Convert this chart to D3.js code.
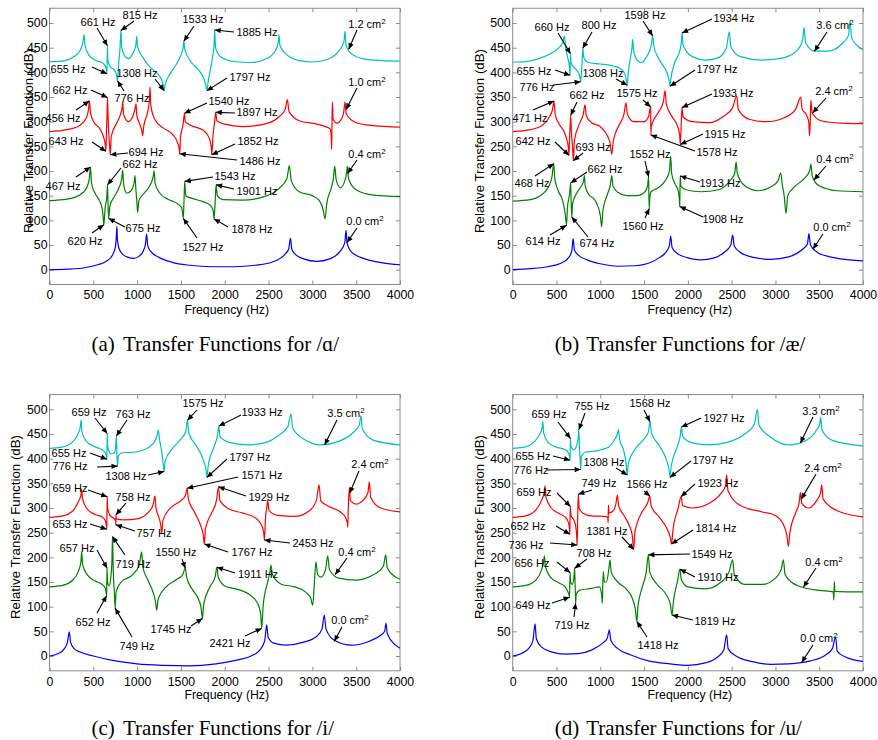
<!DOCTYPE html>
<html>
<head>
<meta charset="utf-8">
<script src="https://cdn.jsdelivr.net/npm/d3@7"></script>
<style>
body { margin: 0; background: #fff; }
</style>
</head>
<body>
<svg id="fig" width="878" height="740"></svg>
<script>
// axis ticks
var freqTicks = [0, 500, 1000, 1500, 2000, 2500, 3000, 3500, 4000];
var dbTicks = [0, 50, 100, 150, 200, 250, 300, 350, 400, 450, 500];

// ---------- (a) /ɑ/  : [Hz, dB] ----------
var aBlue = [[0,0],[200,1],[400,4],[550,10],[650,17],[720,30],[750,45],[762,65],[768,88],[775,62],[790,45],[830,32],[900,25],[960,23],[1020,27],[1070,38],[1095,52],[1109,72],[1120,50],[1150,38],[1250,25],[1400,15],[1600,9],[1850,6],[2100,6],[2350,9],[2550,16],[2680,30],[2730,42],[2750,64],[2765,42],[2800,32],[2900,22],[3050,17],[3200,22],[3320,38],[3370,55],[3384,80],[3395,55],[3450,35],[3600,22],[3800,14],[4000,10]];
var aGreen = [[0,140],[200,143],[350,152],[420,165],[455,185],[467,208],[480,175],[520,155],[570,140],[600,125],[612,108],[620,91],[635,125],[655,150],[662,172],[668,135],[675,104],[690,130],[740,148],[790,165],[825,185],[835,202],[845,175],[880,155],[930,160],[965,175],[976,191],[985,165],[998,135],[1006,116],[1020,140],[1080,155],[1150,172],[1185,190],[1193,201],[1205,175],[1260,155],[1350,143],[1450,135],[1510,125],[1527,104],[1535,140],[1543,179],[1555,150],[1620,145],[1750,138],[1840,130],[1870,118],[1878,103],[1890,135],[1901,172],[1915,150],[1980,142],[2200,141],[2450,148],[2620,165],[2710,185],[2737,211],[2760,180],[2850,158],[3000,150],[3080,140],[3125,120],[3144,103],[3165,135],[3215,165],[3240,185],[3255,210],[3272,182],[3320,166],[3370,180],[3390,196],[3400,210],[3412,185],[3500,162],[3700,151],[4000,148]];
var aRed = [[0,280],[200,284],[350,293],[420,308],[445,325],[456,342],[468,318],[510,298],[570,287],[615,270],[635,255],[643,240],[650,280],[657,315],[662,349],[670,300],[685,255],[694,233],[705,270],[760,295],[810,315],[830,330],[835,341],[845,315],[900,300],[960,315],[980,330],[987,336],[995,315],[1030,295],[1055,280],[1063,271],[1075,290],[1120,320],[1140,345],[1147,370],[1155,335],[1200,305],[1300,287],[1400,275],[1460,258],[1480,245],[1486,235],[1495,268],[1525,295],[1540,317],[1550,300],[1620,292],[1750,283],[1820,268],[1845,250],[1852,233],[1865,270],[1885,300],[1897,319],[1910,302],[2000,295],[2200,290],[2450,295],[2620,310],[2690,325],[2714,345],[2735,320],[2850,302],[3050,295],[3150,290],[3205,285],[3215,270],[3220,244],[3224,300],[3228,340],[3236,305],[3280,297],[3330,305],[3358,320],[3372,340],[3386,316],[3500,298],[3700,292],[4000,289]];
var aCyan = [[0,422],[150,423],[280,432],[350,445],[380,460],[394,476],[405,455],[450,435],[530,424],[600,420],[640,412],[650,405],[655,397],[658,425],[661,454],[665,425],[700,410],[740,405],[765,395],[776,383],[790,420],[805,450],[815,485],[825,450],[860,433],[900,428],[950,438],[985,455],[995,473],[1005,452],[1060,432],[1150,410],[1230,398],[1280,385],[1300,372],[1308,363],[1320,375],[1380,398],[1460,420],[1510,440],[1525,450],[1533,463],[1542,448],[1600,425],[1700,405],[1760,388],[1785,373],[1797,363],[1810,380],[1860,430],[1878,455],[1885,486],[1895,450],[1950,432],[2100,422],[2300,420],[2480,428],[2580,445],[2610,460],[2619,476],[2630,455],[2700,437],[2850,424],[3000,421],[3150,425],[3300,443],[3360,462],[3372,483],[3385,455],[3450,437],[3600,427],[3800,424],[4000,423]];
var aNotes = [["661 Hz",661,454],["815 Hz",815,485],["1533 Hz",1533,463],["1885 Hz",1885,486],
  ["655 Hz",655,397],["1308 Hz",1308,363],["776 Hz",776,383],["1797 Hz",1797,363],
  ["662 Hz",662,349],["456 Hz",456,342],["1540 Hz",1540,317],["1897 Hz",1897,319],
  ["643 Hz",643,240],["694 Hz",694,233],["1852 Hz",1852,233],["1486 Hz",1486,235],
  ["662 Hz",662,172],["467 Hz",467,208],["1543 Hz",1543,179],["1901 Hz",1901,172],
  ["1527 Hz",1527,104],["1878 Hz",1878,103],["620 Hz",620,91],["675 Hz",675,104],
  ["1.2 cm2",3415,447],["1.0 cm2",3385,325],["0.4 cm2",3402,195],["0.0 cm2",3395,55]];

// ---------- (b) /æ/ ----------
var bBlue = [[0,0],[200,2],[400,6],[550,13],[640,25],[675,38],[690,63],[705,40],[760,28],[850,20],[1000,12],[1200,7],[1400,8],[1550,13],[1680,25],[1760,38],[1790,50],[1804,68],[1820,45],[1880,33],[2000,24],[2150,20],[2300,24],[2420,36],[2490,50],[2512,70],[2530,48],[2600,35],[2750,25],[2950,21],[3150,26],[3300,40],[3365,52],[3383,73],[3400,50],[3480,35],[3650,25],[3850,20],[4000,18]];
var bGreen = [[0,139],[200,142],[330,152],[410,168],[450,190],[468,215],[480,185],[520,160],[570,140],[595,118],[608,100],[614,90],[625,125],[650,155],[662,176],[667,140],[674,107],[685,135],[730,155],[785,170],[810,180],[818,191],[828,170],[870,152],[920,145],[970,130],[1000,110],[1016,87],[1030,120],[1080,152],[1115,172],[1131,191],[1145,170],[1200,157],[1300,150],[1420,150],[1510,158],[1540,170],[1552,188],[1555,150],[1560,124],[1565,145],[1580,158],[1650,165],[1740,180],[1790,200],[1804,230],[1815,195],[1850,175],[1890,160],[1902,145],[1908,128],[1910,160],[1913,190],[1920,170],[1980,162],[2150,158],[2350,162],[2480,180],[2535,195],[2551,218],[2565,195],[2650,170],[2800,160],[2950,168],[3030,180],[3060,196],[3080,170],[3100,150],[3121,114],[3140,150],[3200,165],[3330,185],[3390,200],[3406,214],[3420,190],[3500,170],[3700,160],[4000,158]];
var bRed = [[0,280],[200,284],[340,293],[420,310],[455,325],[471,342],[485,315],[530,295],[580,282],[620,262],[635,248],[642,232],[650,270],[657,295],[662,313],[670,280],[685,245],[693,221],[705,262],[760,295],[805,315],[826,334],[840,312],[900,298],[1000,290],[1070,275],[1110,258],[1131,234],[1150,262],[1220,295],[1270,315],[1294,338],[1310,315],[1380,300],[1500,300],[1550,310],[1575,330],[1576,300],[1578,273],[1582,290],[1600,300],[1660,318],[1720,340],[1740,363],[1755,335],[1820,310],[1880,292],[1905,275],[1915,254],[1925,300],[1933,329],[1945,310],[2050,300],[2250,298],[2400,310],[2510,328],[2558,352],[2575,325],[2700,305],[2900,300],[3100,308],[3230,325],[3289,350],[3305,325],[3350,315],[3380,300],[3390,271],[3398,300],[3405,344],[3420,318],[3520,302],[3750,297],[4000,296]];
var bCyan = [[0,421],[150,422],[300,428],[450,440],[540,452],[575,462],[590,474],[605,450],[630,428],[645,415],[652,402],[655,394],[657,415],[660,438],[665,420],[700,410],[740,402],[765,392],[776,381],[785,400],[792,420],[800,449],[812,430],[860,420],[1000,417],[1150,413],[1250,405],[1290,392],[1308,374],[1320,400],[1345,430],[1362,450],[1370,467],[1380,445],[1420,425],[1470,420],[1530,432],[1575,450],[1588,462],[1598,474],[1610,455],[1660,430],[1730,410],[1770,395],[1790,380],[1797,372],[1805,385],[1850,420],[1910,445],[1925,460],[1934,480],[1945,455],[2050,432],[2200,425],[2350,430],[2440,450],[2474,482],[2490,452],[2600,432],[2850,425],[3100,430],[3250,445],[3310,465],[3327,491],[3345,460],[3450,443],[3600,443],[3760,458],[3835,475],[3852,503],[3870,470],[3950,452],[4000,446]];
var bNotes = [["660 Hz",660,438],["800 Hz",800,449],["1598 Hz",1598,474],["1934 Hz",1934,480],
  ["655 Hz",655,394],["1308 Hz",1308,374],["776 Hz",776,381],["1797 Hz",1797,372],
  ["471 Hz",471,342],["662 Hz",662,313],["1575 Hz",1575,330],["1933 Hz",1933,329],
  ["642 Hz",642,232],["693 Hz",693,221],["1915 Hz",1915,254],["1578 Hz",1578,273],
  ["1552 Hz",1552,188],["662 Hz",662,176],["468 Hz",468,215],["1913 Hz",1913,190],["1908 Hz",1908,128],
  ["614 Hz",614,90],["674 Hz",674,107],["1560 Hz",1560,124],
  ["3.6 cm2",3445,443],["2.4 cm2",3425,318],["0.4 cm2",3440,182],["0.0 cm2",3430,42]];

// ---------- (c) /i/ ----------
var cBlue = [[0,0],[100,5],[170,15],[205,28],[226,49],[240,28],[280,15],[350,8],[500,0],[750,-10],[1000,-16],[1300,-19],[1600,-20],[1900,-16],[2150,-8],[2300,0],[2400,12],[2455,30],[2479,63],[2495,38],[2560,26],[2700,22],[2900,28],[3050,40],[3110,55],[3136,83],[3155,55],[3250,32],[3450,22],[3650,30],[3780,42],[3825,50],[3840,66],[3855,45],[3950,22],[4000,16]];
var cGreen = [[0,140],[150,143],[260,153],[330,172],[358,190],[367,211],[378,185],[430,165],[520,152],[600,145],[635,138],[645,130],[652,122],[654,150],[657,178],[662,150],[680,142],[700,160],[712,190],[719,242],[728,170],[740,130],[749,97],[760,130],[820,150],[950,165],[1025,185],[1052,211],[1065,180],[1120,155],[1180,130],[1210,110],[1223,93],[1240,115],[1330,140],[1450,155],[1520,165],[1550,178],[1565,160],[1630,135],[1700,115],[1730,98],[1745,76],[1760,105],[1830,140],[1890,160],[1911,180],[1925,160],[2000,142],[2150,135],[2300,122],[2380,105],[2410,85],[2421,56],[2440,105],[2490,150],[2515,170],[2528,184],[2545,165],[2650,145],[2800,140],[2920,130],[2980,118],[3004,103],[3020,140],[3041,191],[3060,165],[3100,160],[3150,175],[3175,203],[3195,175],[3300,158],[3500,154],[3700,165],[3810,182],[3837,205],[3855,178],[3950,160],[4000,156]];
var cRed = [[0,281],[150,284],[270,295],[335,315],[358,325],[367,338],[378,318],[430,298],[520,287],[600,282],[635,275],[648,265],[653,257],[656,290],[659,323],[663,300],[690,285],[740,278],[755,272],[757,266],[758,286],[762,278],[850,276],[1000,278],[1120,290],[1180,305],[1204,324],[1215,300],[1250,280],[1270,265],[1280,249],[1295,275],[1380,300],[1500,315],[1550,325],[1571,340],[1585,318],[1660,290],[1730,262],[1755,245],[1767,227],[1780,258],[1850,290],[1905,315],[1929,343],[1945,315],[2050,298],[2200,290],[2350,280],[2420,265],[2445,250],[2453,235],[2465,280],[2480,300],[2490,316],[2505,295],[2600,285],[2800,283],[2970,295],[3045,315],[3076,347],[3095,315],[3200,302],[3320,292],[3380,280],[3400,268],[3403,261],[3410,300],[3421,340],[3435,315],[3500,308],[3590,318],[3635,332],[3650,353],[3665,322],[3780,300],[4000,292]];
var cCyan = [[0,421],[130,423],[270,435],[330,452],[352,465],[360,478],[370,455],[420,435],[520,424],[600,418],[635,412],[648,405],[655,399],[657,425],[659,451],[664,425],[700,410],[740,412],[755,425],[763,446],[768,420],[772,400],[776,385],[785,405],[830,412],[950,413],[1080,418],[1180,430],[1225,445],[1242,458],[1255,440],[1280,415],[1298,390],[1308,374],[1320,395],[1400,420],[1500,440],[1555,455],[1575,478],[1590,452],[1680,425],[1750,400],[1785,378],[1797,362],[1810,385],[1880,425],[1915,445],[1933,466],[1945,445],[2050,433],[2250,428],[2450,432],[2620,448],[2720,465],[2756,491],[2775,462],[2900,440],[3100,428],[3300,435],[3460,452],[3535,468],[3555,487],[3570,460],[3700,437],[4000,428]];
var cNotes = [["659 Hz",659,451],["763 Hz",763,446],["1575 Hz",1575,478],["1933 Hz",1933,466],
  ["655 Hz",655,399],["776 Hz",776,385],["1308 Hz",1308,374],["1797 Hz",1797,362],["1571 Hz",1571,340],
  ["659 Hz",659,323],["758 Hz",758,286],["1929 Hz",1929,343],
  ["653 Hz",653,257],["757 Hz",757,266],["1767 Hz",1767,227],["2453 Hz",2453,235],
  ["657 Hz",657,178],["719 Hz",719,242],["1550 Hz",1550,178],["1911 Hz",1911,180],
  ["652 Hz",652,122],["749 Hz",749,97],["1745 Hz",1745,76],["2421 Hz",2421,56],
  ["3.5 cm2",3140,428],["2.4 cm2",3425,330],["0.4 cm2",3260,165],["0.0 cm2",3250,30]];

// ---------- (d) /u/ ----------
var dBlue = [[0,0],[100,5],[180,15],[230,30],[255,65],[270,35],[330,18],[450,8],[600,4],[750,5],[900,12],[1020,25],[1080,36],[1104,53],[1120,32],[1200,15],[1350,2],[1550,-10],[1800,-16],[2000,-19],[2200,-14],[2340,-2],[2410,12],[2443,43],[2460,15],[2550,0],[2750,-12],[2950,-17],[3150,-16],[3400,-10],[3580,3],[3650,15],[3688,38],[3705,10],[3800,-2],[4000,-11]];
var dGreen = [[0,140],[150,143],[270,155],[330,175],[352,190],[362,203],[372,182],[430,160],[530,148],[600,140],[630,130],[642,125],[649,119],[652,145],[656,169],[660,150],[680,145],[698,158],[708,178],[712,150],[716,125],[719,107],[725,125],[760,133],[900,137],[990,140],[1015,125],[1024,107],[1028,140],[1035,171],[1045,150],[1070,150],[1095,172],[1111,195],[1125,170],[1200,150],[1300,135],[1370,115],[1400,95],[1418,70],[1430,100],[1480,140],[1525,170],[1549,205],[1565,170],[1650,145],[1750,125],[1800,105],[1819,83],[1835,110],[1880,150],[1910,176],[1925,155],[2000,140],[2200,136],[2380,150],[2470,170],[2512,195],[2530,165],[2650,145],[2850,145],[3000,158],[3065,175],[3091,195],[3110,165],[3250,143],[3500,133],[3660,130],[3667,113],[3673,151],[3680,131],[3800,130],[4000,130]];
var dRed = [[0,281],[150,284],[270,297],[335,318],[358,330],[369,345],[380,322],[440,300],[540,288],[610,280],[640,268],[648,258],[652,247],[655,280],[659,303],[665,285],[700,275],[720,262],[730,245],[736,225],[742,280],[749,328],[758,300],[800,290],[900,284],[1050,283],[1085,281],[1090,270],[1093,306],[1100,290],[1150,295],[1180,310],[1195,326],[1210,305],[1270,285],[1330,265],[1365,245],[1381,216],[1395,250],[1470,290],[1540,310],[1566,324],[1580,305],[1680,280],[1770,255],[1800,240],[1814,227],[1830,255],[1890,300],[1923,323],[1940,305],[2050,300],[2250,310],[2380,330],[2430,345],[2443,367],[2458,335],[2600,305],[2850,292],[3000,285],[3080,270],[3130,245],[3148,222],[3165,250],[3230,290],[3270,310],[3285,331],[3300,310],[3380,300],[3470,315],[3515,330],[3528,347],[3545,318],[3700,295],[4000,282]];
var dCyan = [[0,421],[120,423],[250,435],[315,452],[335,462],[343,475],[355,452],[410,432],[510,423],[600,418],[635,412],[648,405],[655,397],[657,420],[659,441],[665,425],[700,418],[735,430],[750,445],[755,459],[762,425],[770,400],[776,378],[785,405],[830,413],[950,416],[1080,422],[1160,438],[1195,450],[1207,459],[1220,440],[1270,415],[1295,390],[1308,367],[1320,390],[1400,420],[1500,440],[1550,455],[1568,475],[1585,452],[1680,425],[1750,400],[1785,378],[1797,362],[1810,385],[1880,425],[1912,445],[1927,464],[1940,445],[2050,432],[2250,428],[2450,433],[2650,450],[2760,470],[2794,500],[2812,468],[2950,443],[3150,428],[3350,437],[3470,458],[3505,470],[3517,484],[3532,458],[3650,437],[4000,426]];
var dNotes = [["659 Hz",659,441],["755 Hz",755,459],["1568 Hz",1568,475],["1927 Hz",1927,464],
  ["655 Hz",655,397],["1308 Hz",1308,367],["776 Hz",776,378],["1797 Hz",1797,362],
  ["659 Hz",659,303],["749 Hz",749,328],["1566 Hz",1566,324],["1923 Hz",1923,323],
  ["652 Hz",652,247],["1381 Hz",1381,216],["736 Hz",736,225],["1814 Hz",1814,227],
  ["708 Hz",708,178],["656 Hz",656,169],["1549 Hz",1549,205],["1910 Hz",1910,176],
  ["649 Hz",649,119],["719 Hz",719,107],["1418 Hz",1418,70],["1819 Hz",1819,83],
  ["3.3 cm2",3285,432],["2.4 cm2",3295,318],["0.4 cm2",3320,140],["0.0 cm2",3300,-13]];

// where each note's text sits and where its arrow starts (page px: textX, textY, tailX, tailY)
var aNoteXY = [[98,22,97,28],[140,15,134,21],[203,19,194,26],[257,32,234,32],
  [68,69,92,67],[137,73,155,79],[132,98,124,91],[250,77,227,78],
  [70,90,91,90],[63,118,76,110],[229,101,207,103],[257,112,235,113],
  [66,141,92,142],[146,152,128,153],[258,141,235,144],[260,161,237,160],
  [140,164,121,168],[63,186,76,177],[235,176,213,177],[257,191,234,189],
  [203,247,197,238],[252,229,228,227],[85,241,92,233],[143,228,125,227],
  [367,24,357,30],[367,82,357,88],[367,154,357,160],[365,221,357,228]];
var bNoteXY = [[552,27,558,33],[599,25,592,32],[645,15,643,21],[734,18,712,19],
  [534,71,555,70],[603,73,616,79],[537,87,553,85],[717,69,695,70],
  [530,118,533,110],[587,95,577,102],[637,93,643,100],[733,93,712,94],
  [533,141,555,142],[593,147,583,153],[725,134,703,134],[717,152,695,151],
  [650,154,645,161],[605,169,587,172],[532,183,535,176],[720,183,700,182],[723,219,703,217],
  [543,241,550,235],[597,243,588,237],[643,226,645,218],
  [835,25,827,32],[834,91,826,98],[835,159,826,166],[832,227,823,234]];
var cNoteXY = [[89,412,95,418],[133,414,127,420],[203,403,197,410],[262,412,241,415],
  [69,453,90,453],[70,466,97,467],[126,476,148,475],[250,457,227,459],[262,475,238,477],
  [70,488,88,490],[133,497,126,503],[269,497,246,496],
  [70,524,90,524],[154,533,135,531],[252,552,228,552],[313,543,290,543],
  [77,548,97,550],[133,564,125,555],[176,552,182,559],[258,574,235,573],
  [93,622,97,613],[137,646,132,637],[171,629,191,626],[230,643,245,636],
  [346,413,337,420],[370,464,359,471],[357,552,347,558],[350,620,342,627]];
var dNoteXY = [[549,414,558,422],[592,406,585,413],[650,403,644,410],[724,418,701,418],
  [533,456,553,456],[604,462,616,468],[531,470,547,470],[713,460,691,461],
  [534,492,557,493],[599,483,592,490],[647,484,644,491],[718,483,695,484],
  [528,526,556,526],[607,531,622,537],[526,545,550,543],[716,528,693,530],
  [594,553,587,559],[532,563,557,562],[712,554,690,554],[718,577,695,577],
  [533,605,552,603],[572,625,574,617],[658,645,647,637],[715,621,693,620],
  [821,411,813,417],[823,468,816,474],[824,562,816,568],[819,638,813,645]];

var colors = ["#0000ff", "#008000", "#ff0000", "#00bfbf"];
var pxPerDb = 0.4933;

var panels = [
  { tag: "(a)", vowel: "/\u0251/", curves: [aBlue, aGreen, aRed, aCyan], notes: aNotes, noteXY: aNoteXY,
    left: 49.5, right: 400, zero: 269.7, ylabX: 28, ylabY: 141, xlabY: 314, capY: 351 },
  { tag: "(b)", vowel: "/\u00e6/", curves: [bBlue, bGreen, bRed, bCyan], notes: bNotes, noteXY: bNoteXY,
    left: 512.7, right: 863, zero: 269.7, ylabX: 479, ylabY: 141, xlabY: 314, capY: 351 },
  { tag: "(c)", vowel: "/i/", curves: [cBlue, cGreen, cRed, cCyan], notes: cNotes, noteXY: cNoteXY,
    left: 49.5, right: 400, zero: 656, ylabX: 15, ylabY: 527, xlabY: 699, capY: 735 },
  { tag: "(d)", vowel: "/u/", curves: [dBlue, dGreen, dRed, dCyan], notes: dNotes, noteXY: dNoteXY,
    left: 512.7, right: 863, zero: 656, ylabX: 479, ylabY: 527, xlabY: 699, capY: 735 }
];

var sans = "'Liberation Sans', Arial, Helvetica, sans-serif";
var serif = "'Liberation Serif', 'Times New Roman', 'DejaVu Serif', serif";

var svg = d3.select("#fig");
var defs = svg.append("defs");
defs.append("marker")
  .attr("id", "head")
  .attr("viewBox", "0 0 10 10")
  .attr("refX", 10).attr("refY", 5)
  .attr("markerWidth", 7).attr("markerHeight", 6)
  .attr("markerUnits", "userSpaceOnUse")
  .attr("orient", "auto")
  .append("path")
  .attr("d", "M0,0.5 L10,5 L0,9.5 Z")
  .attr("fill", "#000");

function styleAxis(sel) {
  sel.select(".domain").remove();
  sel.selectAll("line").attr("stroke", "#8a8a8a");
  sel.selectAll("text").attr("font-family", sans).attr("font-size", 12.3).attr("fill", "#000");
}

panels.forEach(function(p, i) {
  var x = d3.scaleLinear().domain([0, 4000]).range([p.left, p.right]);
  var y = d3.scaleLinear().domain([-30, 530]).range([p.zero + 30 * pxPerDb, p.zero - 530 * pxPerDb]);
  var g = svg.append("g");

  defs.append("clipPath").attr("id", "clip" + i)
    .append("rect")
    .attr("x", x(0)).attr("y", y(530))
    .attr("width", x(4000) - x(0)).attr("height", y(-30) - y(530));

  // ticks pointing inward on all four sides
  g.append("g").attr("transform", "translate(0," + y(-30) + ")")
    .call(d3.axisBottom(x).tickValues(freqTicks).tickFormat(d3.format("d"))
      .tickSizeInner(-4).tickSizeOuter(0).tickPadding(6))
    .call(styleAxis);
  g.append("g").attr("transform", "translate(0," + y(530) + ")")
    .call(d3.axisTop(x).tickValues(freqTicks).tickSizeInner(-4).tickSizeOuter(0).tickFormat(""))
    .call(styleAxis);
  g.append("g").attr("transform", "translate(" + x(0) + ",0)")
    .call(d3.axisLeft(y).tickValues(dbTicks).tickFormat(d3.format("d"))
      .tickSizeInner(-4).tickSizeOuter(0).tickPadding(2))
    .call(styleAxis);
  g.append("g").attr("transform", "translate(" + x(4000) + ",0)")
    .call(d3.axisRight(y).tickValues(dbTicks).tickSizeInner(-4).tickSizeOuter(0).tickFormat(""))
    .call(styleAxis);

  g.append("rect")
    .attr("x", x(0)).attr("y", y(530))
    .attr("width", x(4000) - x(0)).attr("height", y(-30) - y(530))
    .attr("fill", "none").attr("stroke", "#8a8a8a").attr("stroke-width", 1);

  var line = d3.line()
    .x(function(d) { return x(d[0]); })
    .y(function(d) { return y(d[1]); })
    .curve(d3.curveMonotoneX);

  g.append("g").attr("clip-path", "url(#clip" + i + ")")
    .selectAll("path")
    .data(p.curves)
    .enter().append("path")
      .attr("d", line)
      .attr("fill", "none")
      .attr("stroke", function(d, j) { return colors[j]; })
      .attr("stroke-width", 1.2)
      .attr("stroke-linejoin", "round");

  // annotations
  p.notes.forEach(function(n, j) {
    var pos = p.noteXY[j];
    g.append("line")
      .attr("x1", pos[2]).attr("y1", pos[3])
      .attr("x2", x(n[1])).attr("y2", y(n[2]))
      .attr("stroke", "#000").attr("stroke-width", 1.1)
      .attr("marker-end", "url(#head)");
    var t = g.append("text")
      .attr("x", pos[0]).attr("y", pos[1])
      .attr("dy", "0.35em")
      .attr("text-anchor", "middle")
      .attr("font-family", sans)
      .attr("font-size", 11)
      .attr("fill", "#000");
    if (n[0].slice(-3) === "cm2") {
      t.text(n[0].slice(0, -1));
      t.append("tspan").attr("dy", "-0.45em").attr("font-size", 8).text("2");
    } else {
      t.text(n[0]);
    }
  });

  g.append("text")
    .attr("x", (x(0) + x(4000)) / 2 + 2)
    .attr("y", p.xlabY)
    .attr("text-anchor", "middle")
    .attr("font-family", sans).attr("font-size", 12.3)
    .text("Frequency (Hz)");

  g.append("text")
    .attr("transform", "translate(" + p.ylabX + "," + p.ylabY + ") rotate(-90)")
    .attr("dy", "0.35em")
    .attr("text-anchor", "middle")
    .attr("font-family", sans).attr("font-size", 13.3)
    .text("Relative Transfer Function (dB)");

  g.append("text")
    .attr("x", p.left + 42).attr("y", p.capY)
    .attr("font-family", serif).attr("font-size", 21)
    .text(p.tag);
  g.append("text")
    .attr("x", p.left + 73.5).attr("y", p.capY)
    .attr("font-family", serif).attr("font-size", 21)
    .text("Transfer Functions for " + p.vowel);
});
</script>
</body>
</html>
